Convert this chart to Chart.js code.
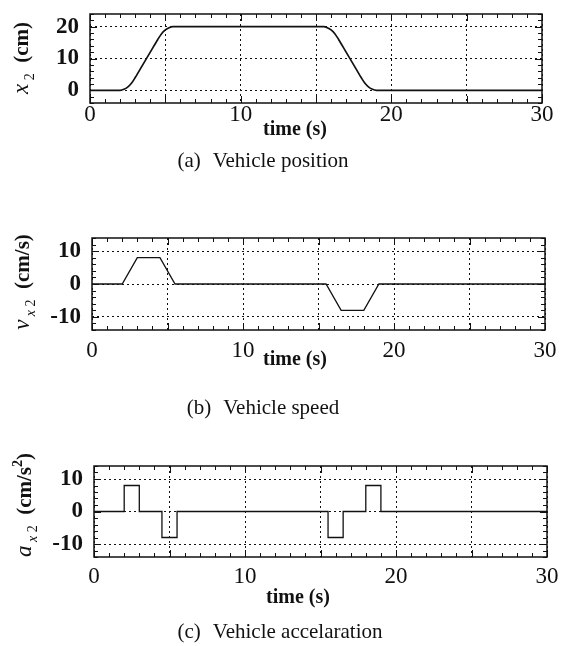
<!DOCTYPE html>
<html>
<head>
<meta charset="utf-8">
<script src="https://cdn.jsdelivr.net/npm/chart.js@4.4.1/dist/chart.umd.min.js"></script>
<style>
  html, body { margin: 0; padding: 0; background: #fff; }
  #page { position: relative; width: 563px; height: 646px; overflow: hidden;
          font-family: "Liberation Serif", "DejaVu Serif", serif; color: #111; }
  canvas { position: absolute; left: 0; }
  .lbl { position: absolute; transform: translate(-50%, -50%); white-space: nowrap; }
  .tt { font-weight: bold; font-size: 20px; }
  .cap { font-size: 21px; }
  .cap span { margin-left: 12px; }
</style>
</head>
<body>
<div id="page">
  <canvas id="posChart"></canvas>
  <canvas id="velChart"></canvas>
  <canvas id="accChart"></canvas>

  <div class="lbl tt" style="left:295px; top:128px;">time (s)</div>
  <div class="lbl cap" style="left:263px; top:160px;">(a)<span>Vehicle position</span></div>

  <div class="lbl tt" style="left:295px; top:358px;">time (s)</div>
  <div class="lbl cap" style="left:263px; top:407px;">(b)<span>Vehicle speed</span></div>

  <div class="lbl tt" style="left:298px; top:596px;">time (s)</div>
  <div class="lbl cap" style="left:280px; top:631px;">(c)<span>Vehicle accelaration</span></div>
</div>

<script>
// time axis (s)
const xTicks = [0, 5, 10, 15, 20, 25, 30];
const xLabels = [0, 10, 20, 30];

// (a) position x2 (cm)
const posTime  = [0, 2, 2.25, 2.5, 2.75, 3, 3.5, 4, 4.5, 4.75, 5, 5.25, 5.5,
                  15.5, 15.75, 16, 16.25, 16.5, 17, 17.5, 18, 18.25, 18.5, 18.75, 19, 30];
const posValue = [0, 0, 0.3, 1, 2.2, 4, 8, 12, 16, 17.8, 19, 19.7, 20,
                  20, 19.7, 19, 17.8, 16, 12, 8, 4, 2.2, 1, 0.3, 0, 0];
const posTicks = [0, 10, 20];

// (b) speed vx2 (cm/s)
const velTime  = [0, 2, 3, 4.5, 5.5, 15.5, 16.5, 18, 19, 30];
const velValue = [0, 0, 8, 8, 0, 0, -8, -8, 0, 0];
const velTicks = [-10, 0, 10];

// (c) acceleration ax2 (cm/s^2)
const accTime  = [0, 2, 2, 3, 3, 4.5, 4.5, 5.5, 5.5, 15.5, 15.5, 16.5, 16.5, 18, 18, 19, 19, 30];
const accValue = [0, 0, 8, 8, 0, 0, -8, -8, 0, 0, -8, -8, 0, 0, 8, 8, 0, 0];
const accTicks = [-10, 0, 10];

const SERIF = '"Liberation Serif", "DejaVu Serif", serif';
const INK = '#111';

// box, inward tick marks and rotated y title
function framePlugin(cfg) {
  return {
    id: 'frame',
    afterDraw(chart) {
      const ctx = chart.ctx;
      const a = chart.chartArea;
      const x = chart.scales.x, y = chart.scales.y;
      ctx.save();
      ctx.strokeStyle = INK;
      ctx.lineWidth = 1;
      ctx.beginPath();
      for (let t = x.min; t <= x.max; t += 1) {
        const px = Math.round(x.getPixelForValue(t)) + 0.5;
        const len = t % 5 === 0 ? 7 : 4;
        ctx.moveTo(px, a.top); ctx.lineTo(px, a.top + len);
        ctx.moveTo(px, a.bottom); ctx.lineTo(px, a.bottom - len);
      }
      for (let v = y.min; v <= y.max; v += 2) {
        const py = Math.round(y.getPixelForValue(v)) + 0.5;
        const len = v % 10 === 0 ? 7 : 4;
        ctx.moveTo(a.left, py); ctx.lineTo(a.left + len, py);
        ctx.moveTo(a.right, py); ctx.lineTo(a.right - len, py);
      }
      ctx.stroke();
      ctx.lineWidth = 1.5;
      ctx.strokeRect(a.left, a.top, a.right - a.left, a.bottom - a.top);

      // y title, mixed fonts, reading bottom to top
      let total = 0;
      cfg.title.forEach(p => { ctx.font = p.font; p.w = ctx.measureText(p.text).width; total += p.w; });
      ctx.translate(cfg.titleX, cfg.titleY);
      ctx.rotate(-Math.PI / 2);
      ctx.fillStyle = INK;
      ctx.textBaseline = 'alphabetic';
      let cx = -total / 2;
      cfg.title.forEach(p => {
        ctx.font = p.font;
        ctx.fillText(p.text, cx, p.dy || 0);
        cx += p.w;
      });
      ctx.restore();
    }
  };
}

function makeChart(id, cfg) {
  const canvas = document.getElementById(id);
  canvas.width = 563;
  canvas.height = cfg.h;
  canvas.style.top = cfg.top + 'px';
  const b = cfg.box;
  return new Chart(canvas, {
    type: 'line',
    data: {
      datasets: [{
        data: cfg.times.map((t, i) => ({ x: t, y: cfg.values[i] })),
        borderColor: INK,
        borderWidth: cfg.lw,
        pointRadius: 0,
        tension: 0,
        cubicInterpolationMode: cfg.smooth ? 'monotone' : 'default'
      }]
    },
    options: {
      responsive: false,
      animation: false,
      events: [],
      layout: { padding: { left: 0, right: 563 - b.right, top: b.top - cfg.top, bottom: 0 } },
      plugins: { legend: { display: false }, tooltip: { enabled: false } },
      scales: {
        x: {
          type: 'linear', min: 0, max: 30,
          afterBuildTicks: s => { s.ticks = xTicks.map(v => ({ value: v })); },
          afterFit: s => {
            s.height = cfg.top + cfg.h - b.bottom;
            s.paddingLeft = 0; s.paddingRight = 0;
          },
          grid: { color: INK, lineWidth: 1, drawTicks: false },
          border: { display: false, dash: [2, 3] },
          ticks: {
            padding: cfg.xPad, color: INK, maxRotation: 0, autoSkip: false,
            font: { family: SERIF, size: 23, lineHeight: 1 },
            callback: v => xLabels.includes(v) ? String(v) : ''
          }
        },
        y: {
          min: cfg.yMin, max: cfg.yMax,
          afterBuildTicks: s => { s.ticks = cfg.yTicks.map(v => ({ value: v })); },
          afterFit: s => {
            s.width = b.left;
            s.paddingTop = 0; s.paddingBottom = 0;
          },
          grid: { color: INK, lineWidth: 1, drawTicks: false },
          border: { display: false, dash: [2, 3] },
          ticks: {
            padding: 11, color: INK, autoSkip: false,
            font: { family: SERIF, size: 23, weight: 'bold', lineHeight: 1 }
          }
        }
      }
    },
    plugins: [framePlugin(cfg)]
  });
}

const bigIt = 'italic 23px ' + SERIF;
const bigBd = 'bold 21px ' + SERIF;
const subIt = 'italic 14px ' + SERIF;
const sub = '14px ' + SERIF;

makeChart('posChart', {
  top: 0, h: 140, box: { left: 90, right: 542, top: 14, bottom: 103 },
  times: posTime, values: posValue, yTicks: posTicks, yMin: -4, yMax: 24,
  lw: 1.7, smooth: true, xPad: 0,
  titleX: 28, titleY: 58,
  title: [
    { text: 'x', font: bigIt },
    { text: ' 2', font: sub, dy: 6 },
    { text: '  (cm)', font: bigBd }
  ]
});

makeChart('velChart', {
  top: 220, h: 150, box: { left: 92, right: 545, top: 238, bottom: 330 },
  times: velTime, values: velValue, yTicks: velTicks, yMin: -14, yMax: 14,
  lw: 1.3, smooth: false, xPad: 9,
  titleX: 29, titleY: 62,
  title: [
    { text: 'v', font: bigIt },
    { text: ' x', font: subIt, dy: 6 },
    { text: ' 2', font: sub, dy: 6 },
    { text: '  (cm/s)', font: bigBd }
  ]
});

makeChart('accChart', {
  top: 445, h: 150, box: { left: 94, right: 547, top: 466, bottom: 557 },
  times: accTime, values: accValue, yTicks: accTicks, yMin: -14, yMax: 14,
  lw: 1.3, smooth: false, xPad: 8,
  titleX: 31, titleY: 60,
  title: [
    { text: 'a', font: bigIt },
    { text: ' x', font: subIt, dy: 6 },
    { text: ' 2', font: sub, dy: 6 },
    { text: '  (cm/s', font: bigBd },
    { text: '2', font: 'bold 14px ' + SERIF, dy: -9 },
    { text: ')', font: bigBd }
  ]
});
</script>
</body>
</html>
